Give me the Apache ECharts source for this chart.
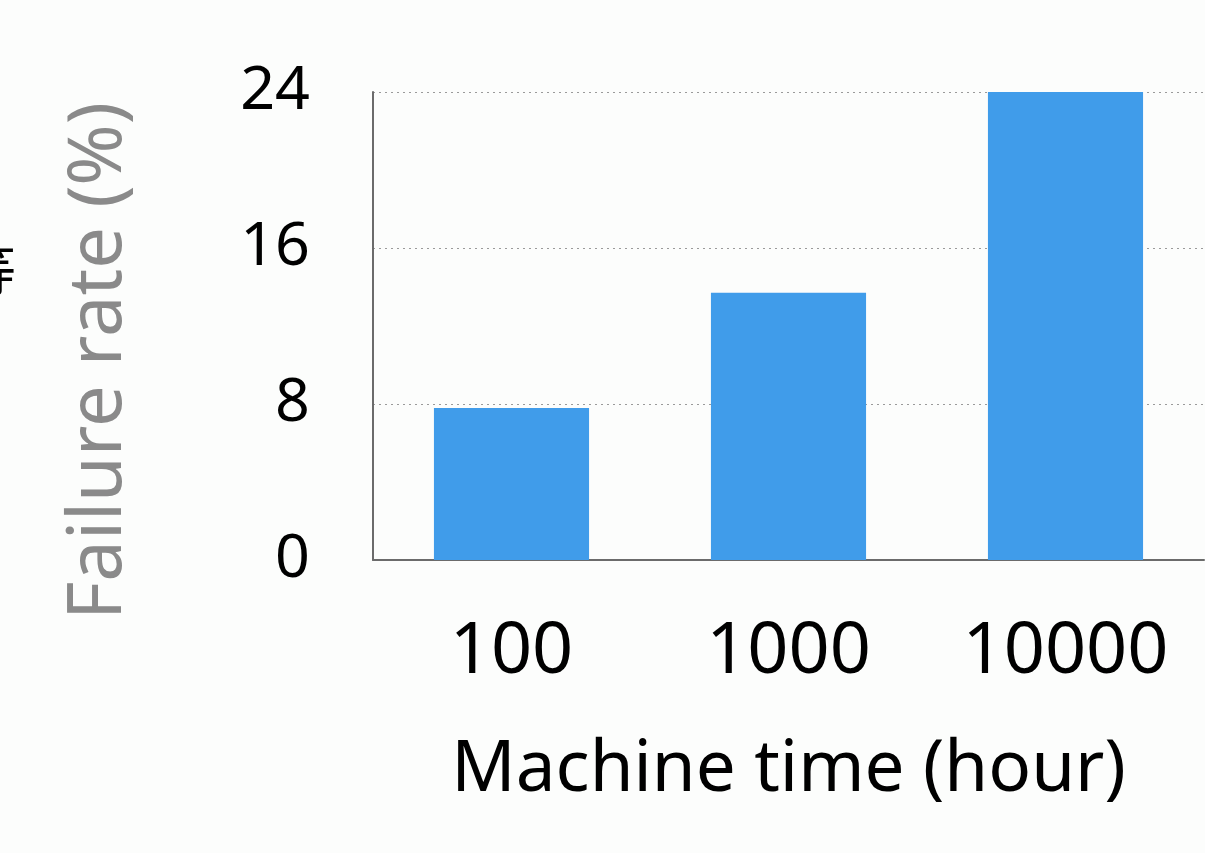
<!DOCTYPE html>
<html>
<head>
<meta charset="utf-8">
<script src="https://cdn.jsdelivr.net/npm/echarts@6/dist/echarts.min.js"></script>
<style>html,body{margin:0;padding:0;background:#fcfdfc;}#c{width:1205px;height:853px;}</style>
</head>
<body>
<div id="c"></div>
<script>
const categories = ['100', '1000', '10000'];
const failureRate = [7.8, 13.7, 24];
const yTicks = { min: 0, max: 24, interval: 8 };
const xName = 'Machine time (hour)';
const yName = 'Failure rate (%)';
const cutText = '等';

const chart = echarts.init(document.getElementById('c'));
const font = '"Noto Sans", "Open Sans", sans-serif';
chart.setOption({
  backgroundColor: '#fcfdfc',
  animation: false,
  grid: { left: 373, right: 1, top: 92, bottom: 293, containLabel: false },
  graphic: [{
    type: 'text', left: -39, top: 242,
    style: { text: cutText, font: '55px "Noto Sans CJK SC"', fill: '#000' }
  }],
  xAxis: {
    type: 'category', data: categories,
    name: xName, nameLocation: 'middle', nameGap: 175,
    nameTextStyle: { fontSize: 71, color: '#000', fontFamily: font },
    axisLine: { lineStyle: { color: '#6b6b6b', width: 2 } },
    axisTick: { show: false },
    axisLabel: { fontSize: 72, color: '#000', margin: 56, fontFamily: font }
  },
  yAxis: {
    type: 'value', min: yTicks.min, max: yTicks.max, interval: yTicks.interval,
    name: yName, nameLocation: 'middle', nameGap: 236, nameRotate: 90,
    nameTextStyle: { fontSize: 74, color: '#8a8a8a', fontFamily: font, padding: [0, 70, 0, 0] },
    axisLine: { show: true, lineStyle: { color: '#6b6b6b', width: 2 } },
    axisTick: { show: false },
    axisLabel: { fontSize: 61, color: '#000', margin: 63, fontFamily: font },
    splitLine: { show: true, lineStyle: { color: '#9a9a9a', type: [2, 4], width: 1 } }
  },
  series: [{
    type: 'bar', data: failureRate, barWidth: '56%',
    itemStyle: { color: '#409cea' }
  }]
});
</script>
</body>
</html>
